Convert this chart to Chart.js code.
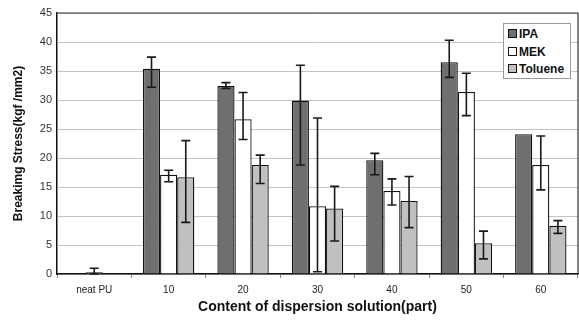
<!DOCTYPE html>
<html>
<head>
<meta charset="utf-8">
<script src="https://cdn.jsdelivr.net/npm/chart.js@4/dist/chart.umd.min.js"></script>
<style>
  html, body { margin: 0; padding: 0; background: #fff; }
  #wrap { position: relative; width: 579px; height: 320px; }
  #legend { position: absolute; left: 503px; top: 23px; width: 68px; height: 56px;
    border: 1px solid #9a9a9a; background: #fff; box-sizing: border-box;
    font-family: "Liberation Sans", Arial, sans-serif; font-weight: bold; font-size: 12px; color: #111;
    padding: 2px 0 0 4px; }
  .item { height: 17.5px; line-height: 17px; white-space: nowrap; overflow: visible; }
  .sw { display: inline-block; width: 7px; height: 7px; border: 1px solid #111; margin-right: 2px; vertical-align: 0px; }
</style>
</head>
<body>
<div id="wrap">
  <canvas id="c" width="579" height="320"></canvas>
  <div id="legend"></div>
</div>
<script>
const categories = ['neat PU', '10', '20', '30', '40', '50', '60'];
const seriesNames = ['IPA', 'MEK', 'Toluene'];
const ipa      = [null, 35.4, 32.4, 29.9, 19.6, 36.5, 24.1];
const ipaLow   = [null, 32.2, 32.0, 18.8, 17.1, 33.9, null];
const ipaHigh  = [null, 37.4, 33.0, 36.0, 20.8, 40.3, null];
const mek      = [0.3, 17.1, 26.7, 11.7, 14.3, 31.4, 18.8];
const mekLow   = [0.0, 15.9, 23.2, 0.4, 11.9, 27.3, 14.5];
const mekHigh  = [1.0, 17.9, 31.3, 26.9, 16.4, 34.6, 23.8];
const tol      = [null, 16.7, 18.8, 11.3, 12.6, 5.3, 8.3];
const tolLow   = [null, 8.9, 15.6, 5.7, 8.0, 2.6, 7.0];
const tolHigh  = [null, 23.0, 20.5, 15.1, 16.8, 7.4, 9.2];
const yTicks   = [0, 5, 10, 15, 20, 25, 30, 35, 40, 45];

const colors = ['#6f6f6f', '#ffffff', '#c0c0c0'];
const lows = [ipaLow, mekLow, tolLow];
const highs = [ipaHigh, mekHigh, tolHigh];

// HTML legend
const lg = document.getElementById('legend');
seriesNames.forEach((n, i) => {
  const d = document.createElement('div');
  d.className = 'item';
  d.innerHTML = '<span class="sw" style="background:' + colors[i] + '"></span>' + n;
  lg.appendChild(d);
});

const errorBars = {
  id: 'errorBars',
  afterDatasetsDraw(chart) {
    const ctx = chart.ctx;
    const ys = chart.scales.y;
    ctx.save();
    ctx.strokeStyle = '#1a1a1a';
    ctx.lineWidth = 1.6;
    chart.data.datasets.forEach((ds, i) => {
      const meta = chart.getDatasetMeta(i);
      meta.data.forEach((el, j) => {
        const lo = lows[i][j], hi = highs[i][j];
        if (lo == null || hi == null) return;
        const x = el.x;
        const y1 = ys.getPixelForValue(hi), y2 = ys.getPixelForValue(lo);
        ctx.beginPath();
        ctx.moveTo(x, y1); ctx.lineTo(x, y2);
        ctx.moveTo(x - 4.5, y1); ctx.lineTo(x + 4.5, y1);
        ctx.moveTo(x - 4.5, y2); ctx.lineTo(x + 4.5, y2);
        ctx.stroke();
      });
    });
    ctx.restore();
  }
};

const frame = {
  id: 'frame',
  beforeDatasetsDraw(chart) {
    const a = chart.chartArea, ctx = chart.ctx;
    ctx.save();
    ctx.strokeStyle = '#333';
    ctx.lineWidth = 1.2;
    ctx.beginPath();
    ctx.moveTo(a.left, a.top); ctx.lineTo(a.right, a.top); ctx.lineTo(a.right, a.bottom);
    ctx.stroke();
    ctx.restore();
  }
};

new Chart(document.getElementById('c'), {
  type: 'bar',
  data: {
    labels: categories,
    datasets: [
      { label: seriesNames[0], data: ipa, backgroundColor: colors[0] },
      { label: seriesNames[1], data: mek, backgroundColor: colors[1] },
      { label: seriesNames[2], data: tol, backgroundColor: colors[2] }
    ].map(d => Object.assign(d, { borderColor: '#111', borderWidth: 1.3, categoryPercentage: 0.69, barPercentage: 1.0 }))
  },
  options: {
    responsive: false,
    animation: false,
    layout: { padding: { top: 13, right: 1, left: 0, bottom: 0 } },
    plugins: { legend: { display: false }, tooltip: { enabled: false } },
    scales: {
      x: {
        grid: { display: true, drawOnChartArea: false, drawTicks: true, tickLength: 4, color: '#888', offset: true },
        border: { display: true, color: '#111', width: 1.5 },
        ticks: { color: '#222', font: { family: 'Liberation Sans', size: 10 }, padding: 6 },
        title: { display: true, text: 'Content of dispersion solution(part)', color: '#111',
          font: { family: 'Liberation Sans', size: 14, weight: 'bold' }, padding: { top: 0 } },
        afterFit(s) { s.height = 46; }
      },
      y: {
        min: 0, max: 45,
        afterBuildTicks(s) { s.ticks = yTicks.map(v => ({ value: v })); },
        grid: { color: '#c4c4c4', lineWidth: 1, drawTicks: false },
        border: { display: true, color: '#111', width: 1.5 },
        ticks: { color: '#333', font: { family: 'Liberation Sans', size: 11 }, padding: 5 },
        title: { display: true, text: 'Breakimg Stress(kgf /mm2)', color: '#111',
          font: { family: 'Liberation Sans', size: 12, weight: 'bold' }, padding: { top: 11, bottom: 4 } },
        afterFit(s) { s.width = 57; }
      }
    }
  },
  plugins: [frame, errorBars]
});
</script>
</body>
</html>
